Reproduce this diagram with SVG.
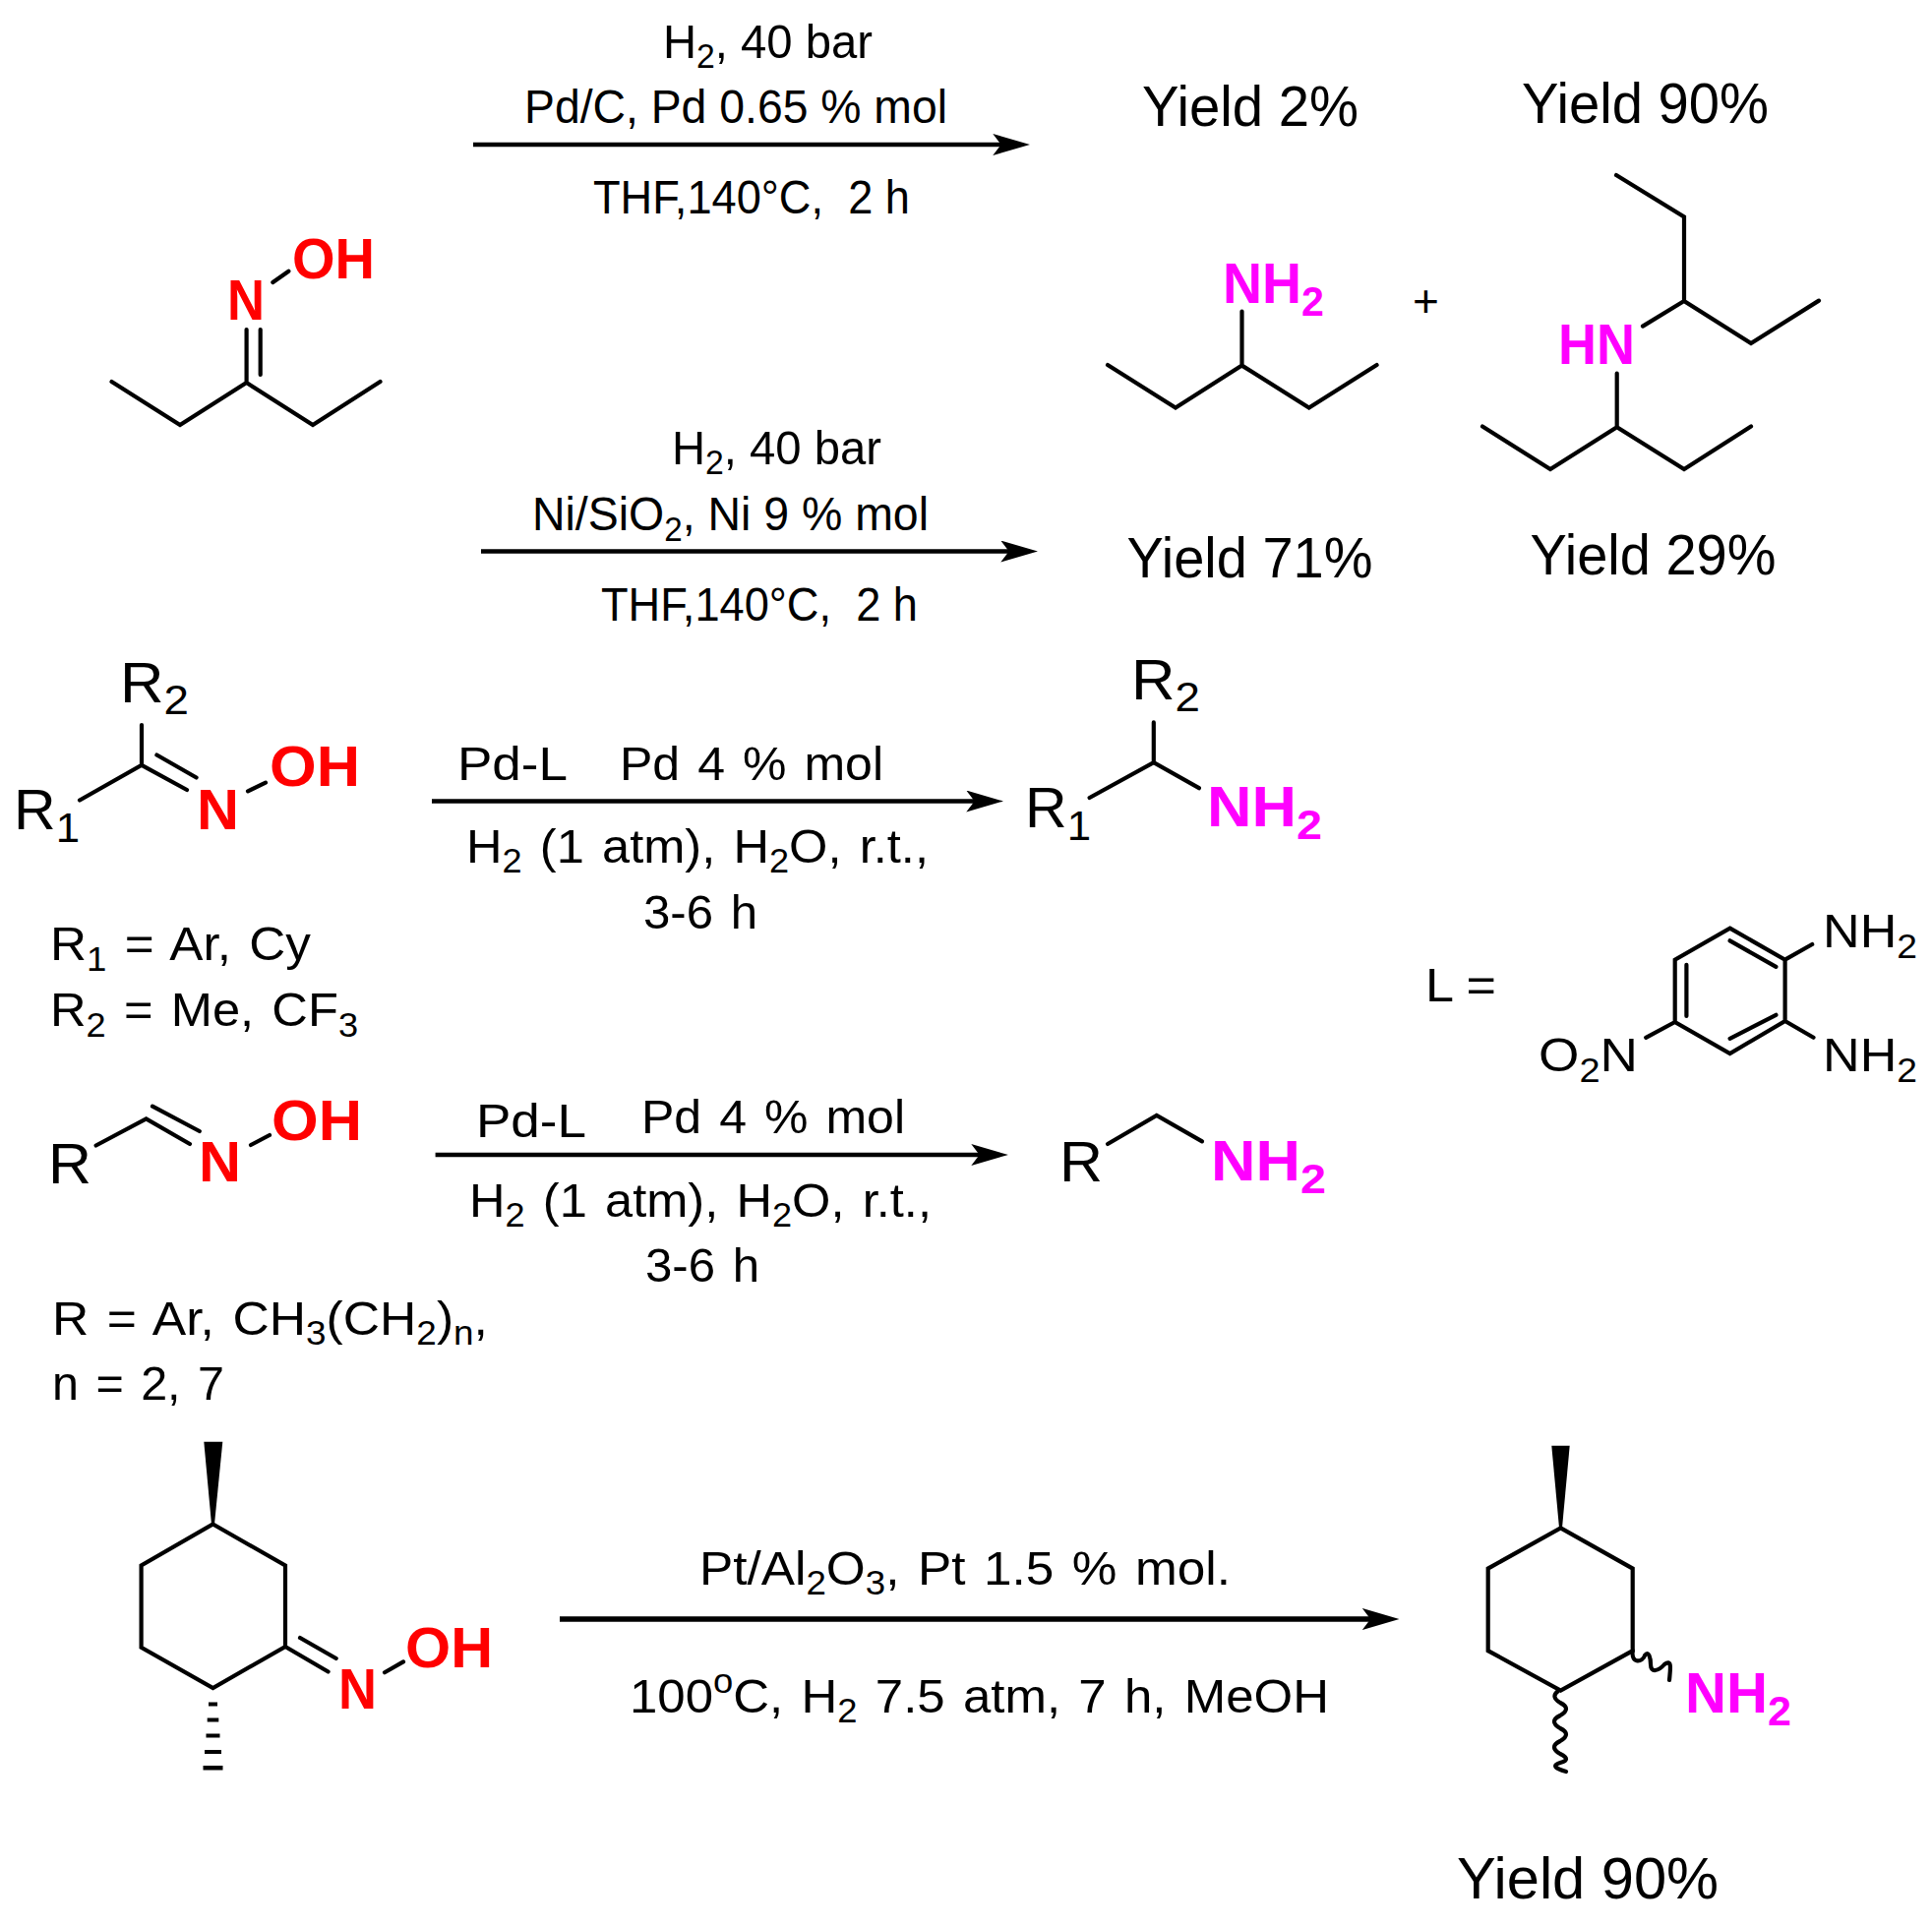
<svg xmlns="http://www.w3.org/2000/svg" width="1964" height="1958" viewBox="0 0 1964 1958">
<style>
text{font-family:"Liberation Sans",Arial,sans-serif;fill:#000;font-size:49px}
.y{font-size:58px}
.a{font-size:58px}
.b{font-size:58px;font-weight:700}
.red{fill:#f00}
.mag{fill:#f0f}
.s{font-size:35px}
.sa{font-size:43px}
.ws{word-spacing:4px}
.l{fill:none;stroke:#000;stroke-width:4.2;stroke-linecap:round;stroke-linejoin:miter}
.w{fill:none;stroke:#000;stroke-width:4.2;stroke-linecap:round}
.ar{fill:none;stroke:#000;stroke-width:4.400}
</style>
<defs>
<marker id="head" markerUnits="userSpaceOnUse" markerWidth="38" markerHeight="22" viewBox="0 0 36 21" refX="26" refY="10.5" orient="auto"><path d="M0,0L36,10.5L0,21L8,10.5Z" fill="#000"/></marker>
</defs>
<rect width="1964" height="1958" fill="#fff"/>
<g id="connectors">
<line class="ar" x1="481" y1="147" x2="1036.500" y2="147" marker-end="url(#head)"/>
<line class="ar" x1="489" y1="560.5" x2="1044.500" y2="560.5" marker-end="url(#head)"/>
<line class="ar" x1="439" y1="814.5" x2="1009.500" y2="814.5" marker-end="url(#head)"/>
<line class="ar" x1="442.6" y1="1174" x2="1014.500" y2="1174" marker-end="url(#head)"/>
<line class="ar" style="stroke-width:5.500" x1="569" y1="1646" x2="1412" y2="1646" marker-end="url(#head)"/>
</g>
<g id="conditions-1">
<text x="674" y="59" textLength="213" lengthAdjust="spacingAndGlyphs">H<tspan class="s" dy="10">2</tspan><tspan dy="-10">, 40 bar</tspan></text>
<text x="533" y="124.6" textLength="430" lengthAdjust="spacingAndGlyphs">Pd/C, Pd 0.65 % mol</text>
<text x="603" y="216.8" textLength="322" lengthAdjust="spacingAndGlyphs" xml:space="preserve">THF,140°C,  2 h</text>
</g>
<g id="conditions-2">
<text x="683" y="472" textLength="213" lengthAdjust="spacingAndGlyphs">H<tspan class="s" dy="10">2</tspan><tspan dy="-10">, 40 bar</tspan></text>
<text x="541" y="538.7" textLength="403" lengthAdjust="spacingAndGlyphs">Ni/SiO<tspan class="s" dy="11">2</tspan><tspan dy="-11">, Ni 9 % mol</tspan></text>
<text x="611" y="630.5" textLength="322" lengthAdjust="spacingAndGlyphs" xml:space="preserve">THF,140°C,  2 h</text>
</g>
<g id="oxime-1">
<path class="l" d="M113.5,388L183,432L250.6,389L318,432L386.5,388M250.6,389V335M264.7,381V335M277.4,287L293.4,275.7"/>
<text class="b red" x="231" y="325" textLength="38" lengthAdjust="spacingAndGlyphs">N</text>
<text class="b red" x="297" y="283" textLength="84" lengthAdjust="spacingAndGlyphs">OH</text>
</g>
<g id="primary-amine">
<path class="l" d="M1126,371L1195,414.6L1262.5,371.6L1330.7,414.6L1399.6,371M1262.5,371.6V316.5"/>
<text class="b mag" x="1243" y="308" textLength="103" lengthAdjust="spacingAndGlyphs">NH<tspan class="sa" dy="13">2</tspan></text>
</g>
<text id="plus" x="1449.4" y="322" style="font-size:46px" text-anchor="middle">+</text>
<g id="secondary-amine">
<path class="l" d="M1643,178L1712,220.5V306L1780,349L1849,305.6M1712,306L1670,331.6M1643.7,379.6V434.3M1507,433.5L1576,477L1643.7,434.3L1712,477L1780,433.5"/>
<text class="b mag" x="1584" y="370" textLength="78" lengthAdjust="spacingAndGlyphs">HN</text>
</g>
<g id="yields">
<text class="y" x="1161" y="127.500" textLength="220" lengthAdjust="spacingAndGlyphs">Yield 2%</text>
<text class="y" x="1547" y="125" textLength="251" lengthAdjust="spacingAndGlyphs">Yield 90%</text>
<text class="y" x="1145.5" y="586.500" textLength="250" lengthAdjust="spacingAndGlyphs">Yield 71%</text>
<text class="y" x="1555.5" y="583.500" textLength="250" lengthAdjust="spacingAndGlyphs">Yield 29%</text>
</g>
<g id="ketoxime">
<path class="l" d="M81,813.5L144,777.8V737M144,777.8L190,803M159.4,767.5L199.6,790.5M252,804.3L270,795.6"/>
<text class="a" x="122" y="714" textLength="70" lengthAdjust="spacingAndGlyphs">R<tspan class="sa" dy="12">2</tspan></text>
<text class="a" x="14" y="843" textLength="67" lengthAdjust="spacingAndGlyphs">R<tspan class="sa" dy="13">1</tspan></text>
<text class="b red" x="200" y="842.5" textLength="43" lengthAdjust="spacingAndGlyphs">N</text>
<text class="b red" x="274" y="799" textLength="92" lengthAdjust="spacingAndGlyphs">OH</text>
</g>
<g id="conditions-3">
<text x="465" y="793" textLength="112" lengthAdjust="spacingAndGlyphs">Pd-L</text>
<text class="ws" x="630" y="793" textLength="268" lengthAdjust="spacingAndGlyphs">Pd 4 % mol</text>
<text class="ws" x="474" y="877" textLength="470" lengthAdjust="spacingAndGlyphs">H<tspan class="s" dy="10">2</tspan><tspan dy="-10"> (1 atm), H</tspan><tspan class="s" dy="10">2</tspan><tspan dy="-10">O, r.t.,</tspan></text>
<text class="ws" x="654" y="943.6" textLength="116" lengthAdjust="spacingAndGlyphs">3-6 h</text>
</g>
<g id="ketoxime-amine">
<path class="l" d="M1107.6,811L1172.8,775.2L1218.9,801.2M1172.8,775.2V734.4"/>
<text class="a" x="1150" y="711" textLength="70" lengthAdjust="spacingAndGlyphs">R<tspan class="sa" dy="12">2</tspan></text>
<text class="a" x="1042" y="840.5" textLength="67" lengthAdjust="spacingAndGlyphs">R<tspan class="sa" dy="13">1</tspan></text>
<text class="b mag" x="1227" y="840" textLength="117" lengthAdjust="spacingAndGlyphs">NH<tspan class="sa" dy="13">2</tspan></text>
</g>
<g id="r-definitions">
<text class="ws" x="51" y="975.7" textLength="265" lengthAdjust="spacingAndGlyphs">R<tspan class="s" dy="11">1</tspan><tspan dy="-11"> = Ar, Cy</tspan></text>
<text class="ws" x="51" y="1043" textLength="313" lengthAdjust="spacingAndGlyphs">R<tspan class="s" dy="11">2</tspan><tspan dy="-11"> = Me, CF</tspan><tspan class="s" dy="11">3</tspan></text>
</g>
<g id="ligand">
<text x="1449" y="1017.6" textLength="72" lengthAdjust="spacingAndGlyphs">L =</text>
<path class="l" d="M1758.6,943.6L1814.6,975.7V1038L1758.6,1071L1702.7,1039V975.7ZM1758.6,956.3L1805.4,982.9M1805.4,1031.8L1758.6,1055.8M1714.4,980.8V1032.9M1814.6,975.7L1842.2,960M1814.6,1038L1843.5,1054.8M1702.7,1039L1673.2,1054.8"/>
<text x="1853" y="963" textLength="96" lengthAdjust="spacingAndGlyphs">NH<tspan class="s" dy="11">2</tspan></text>
<text x="1853" y="1089" textLength="96" lengthAdjust="spacingAndGlyphs">NH<tspan class="s" dy="11">2</tspan></text>
<text x="1564" y="1089" textLength="101" lengthAdjust="spacingAndGlyphs">O<tspan class="s" dy="11">2</tspan><tspan dy="-11">N</tspan></text>
</g>
<g id="aldoxime">
<path class="l" d="M97.6,1164.5L148.6,1137.4L193,1163M155,1124.7L202.8,1150M255,1164L274,1154"/>
<text class="a" x="49" y="1202.8" textLength="44" lengthAdjust="spacingAndGlyphs">R</text>
<text class="b red" x="202" y="1201" textLength="43" lengthAdjust="spacingAndGlyphs">N</text>
<text class="b red" x="276" y="1159" textLength="92" lengthAdjust="spacingAndGlyphs">OH</text>
</g>
<g id="conditions-4">
<text x="484" y="1156" textLength="112" lengthAdjust="spacingAndGlyphs">Pd-L</text>
<text class="ws" x="652" y="1151.7" textLength="268" lengthAdjust="spacingAndGlyphs">Pd 4 % mol</text>
<text class="ws" x="477" y="1237" textLength="470" lengthAdjust="spacingAndGlyphs">H<tspan class="s" dy="10">2</tspan><tspan dy="-10"> (1 atm), H</tspan><tspan class="s" dy="10">2</tspan><tspan dy="-10">O, r.t.,</tspan></text>
<text class="ws" x="656" y="1303" textLength="116" lengthAdjust="spacingAndGlyphs">3-6 h</text>
</g>
<g id="aldoxime-amine">
<path class="l" d="M1126,1163L1175.8,1133.9L1222,1160.4"/>
<text class="a" x="1077" y="1201" textLength="44" lengthAdjust="spacingAndGlyphs">R</text>
<text class="b mag" x="1231" y="1199.7" textLength="117" lengthAdjust="spacingAndGlyphs">NH<tspan class="sa" dy="13">2</tspan></text>
</g>
<g id="r-definition-2">
<text class="ws" x="53" y="1356.8" textLength="443" lengthAdjust="spacingAndGlyphs">R = Ar, CH<tspan class="s" dy="10">3</tspan><tspan dy="-10">(CH</tspan><tspan class="s" dy="10">2</tspan><tspan dy="-10">)</tspan><tspan class="s" dy="10">n</tspan><tspan dy="-10">,</tspan></text>
<text class="ws" x="53" y="1423" textLength="175" lengthAdjust="spacingAndGlyphs">n = 2, 7</text>
</g>
<g id="cyclic-oxime">
<path d="M207.3,1465.8H226.3L218,1549.500H215Z" fill="#000"/>
<path class="l" d="M216.5,1549.500L290,1591.500V1674L216.5,1716L143.6,1674.800V1591.500ZM290,1674L333.6,1699.500M305,1665L341.7,1686M391,1700.300L410,1689.400"/>
<path d="M212,1730.500h9v4h-9zM210.7,1746.500h11.6v4h-11.6zM209.5,1762.500h14v4h-14zM208,1779h17v4h-17zM206.5,1795h20v4.500h-20z" fill="#000"/>
<text class="b red" x="344" y="1737" textLength="39" lengthAdjust="spacingAndGlyphs">N</text>
<text class="b red" x="412" y="1695" textLength="89" lengthAdjust="spacingAndGlyphs">OH</text>
</g>
<g id="conditions-5">
<text class="ws" x="711" y="1610.500" textLength="540" lengthAdjust="spacingAndGlyphs">Pt/Al<tspan class="s" dy="10">2</tspan><tspan dy="-10">O</tspan><tspan class="s" dy="10">3</tspan><tspan dy="-10">, Pt 1.5 % mol.</tspan></text>
<text class="ws" x="640" y="1741" textLength="711" lengthAdjust="spacingAndGlyphs">100<tspan class="s" dy="-20">o</tspan><tspan dy="20">C, H</tspan><tspan class="s" dy="10">2</tspan><tspan dy="-10"> 7.5 atm, 7 h, MeOH</tspan></text>
</g>
<g id="cyclic-amine">
<path d="M1577.3,1469.700H1595.700L1588,1553.300H1585Z" fill="#000"/>
<path class="l" d="M1586.500,1553.300L1659.700,1594.600V1678.200L1586.500,1718.500L1512.700,1678.200V1594.600Z"/>
<path class="w" d="M1584,1719Q1576,1725 1586,1731Q1598,1737 1586,1744Q1574,1750 1586,1757Q1598,1763 1586,1770Q1574,1776 1586,1783Q1598,1789 1586,1792Q1574,1796 1592,1801M1659.700,1678C1658,1692 1670,1690 1672,1683C1676,1677 1678,1686 1678,1692C1678,1701 1686,1699 1692,1692C1700,1686 1698,1697 1697,1708"/>
<text class="b mag" x="1713" y="1741" textLength="108" lengthAdjust="spacingAndGlyphs">NH<tspan class="sa" dy="13">2</tspan></text>
<text class="y" style="font-size:60px" x="1481" y="1929.500" textLength="266" lengthAdjust="spacingAndGlyphs">Yield 90%</text>
</g>
</svg>
